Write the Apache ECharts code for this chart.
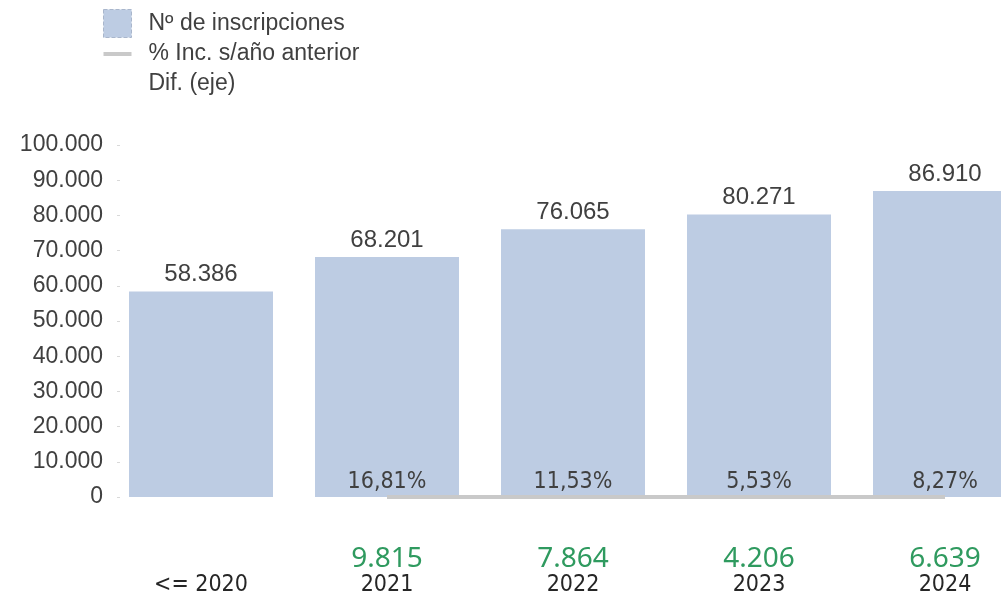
<!DOCTYPE html>
<html lang="es">
<head>
    <meta charset="UTF-8">
    <title>Inscripciones</title>
    <script src="https://cdn.jsdelivr.net/npm/echarts@6/dist/echarts.min.js"></script>
    <style>
        html, body { margin: 0; padding: 0; background: #fff; }
        .demo { width: 1001px; height: 593px; }
    </style>
</head>
<body>
    <div class="demo"></div>
    <script>
        // datos
        var years = ['<= 2020', '2021', '2022', '2023', '2024']
        var inscripciones = [58386, 68201, 76065, 80271, 86910]
        var incPct = [null, 16.81, 11.53, 5.53, 8.27]
        var dif = [null, 9815, 7864, 4206, 6639]
        var yTicks = [0, 10000, 20000, 30000, 40000, 50000, 60000, 70000, 80000, 90000, 100000]

        var narrow = "'Liberation Sans Narrow', 'DejaVu Sans Condensed', 'Liberation Sans', sans-serif"

        function fmt(n) {
            return String(n).replace(/\B(?=(\d{3})+(?!\d))/g, '.')
        }

        var chart = echarts.init(document.querySelector('.demo'))
        var option = {
            animation: false,
            legend: {
                orient: 'vertical',
                left: 103,
                top: 9,
                padding: 0,
                itemWidth: 28,
                itemHeight: 28,
                itemGap: 2,
                textStyle: { fontSize: 23, color: '#404040', fontFamily: 'Liberation Sans', padding: [0, 0, 0, 12] },
                data: [
                    { name: 'Nº de inscripciones', icon: 'rect', itemStyle: { borderColor: '#a9b6cc', borderWidth: 1, borderType: 'dashed' } },
                    { name: '% Inc. s/año anterior', icon: 'path://M0,0 M0,28 M0,12 L28,12 L28,16 L0,16 Z' },
                    { name: 'Dif. (eje)', icon: 'path://M0,0 M28,28' }
                ]
            },
            grid: { left: 108, top: 145, width: 930, height: 352, outerBoundsMode: 'none' },
            xAxis: {
                type: 'category',
                data: years,
                axisLine: { show: false },
                axisTick: { show: false },
                axisLabel: {
                    margin: 48,
                    formatter: function (v, i) {
                        var d = dif[i] == null ? ' ' : fmt(dif[i])
                        return '{g|' + d + '}\n{y|' + v + '}'
                    },
                    rich: {
                        g: { fontSize: 28, color: '#2f9a5f', fontFamily: 'Noto Sans', lineHeight: 28, height: 28 },
                        y: { fontSize: 23, color: '#262626', fontFamily: narrow, lineHeight: 25 }
                    }
                }
            },
            yAxis: {
                type: 'value',
                min: 0,
                max: 100000,
                interval: 10000,
                offset: -12,
                splitLine: { show: false },
                axisLine: { show: false },
                axisTick: { show: true, length: 3, lineStyle: { color: '#d9d9d9' } },
                axisLabel: {
                    fontSize: 23,
                    color: '#404040',
                    fontFamily: 'Liberation Sans',
                    margin: 17,
                    formatter: function (v) { return yTicks.indexOf(v) >= 0 ? fmt(v) : '' }
                }
            },
            series: [
                {
                    name: 'Nº de inscripciones',
                    type: 'bar',
                    data: inscripciones,
                    barWidth: 144,
                    itemStyle: { color: '#bdcce3' },
                    label: {
                        show: true,
                        position: 'top',
                        distance: 5,
                        fontSize: 24,
                        color: '#404040',
                        fontFamily: 'Liberation Sans',
                        formatter: function (p) { return fmt(p.value) }
                    }
                },
                {
                    name: '% Inc. s/año anterior',
                    type: 'line',
                    data: incPct,
                    symbol: 'circle',
                    showSymbol: true,
                    symbolSize: 0,
                    color: '#c9c9c9',
                    lineStyle: { width: 4, color: '#c9c9c9' },
                    z: 3,
                    label: {
                        show: true,
                        position: 'top',
                        distance: 3,
                        fontSize: 23,
                        color: '#404040',
                        fontFamily: narrow,
                        formatter: function (p) { return p.value.toFixed(2).replace('.', ',') + '%' }
                    }
                },
                {
                    name: 'Dif. (eje)',
                    type: 'line',
                    data: [],
                    color: 'transparent'
                }
            ]
        }
        chart.setOption(option)
    </script>
</body>
</html>
